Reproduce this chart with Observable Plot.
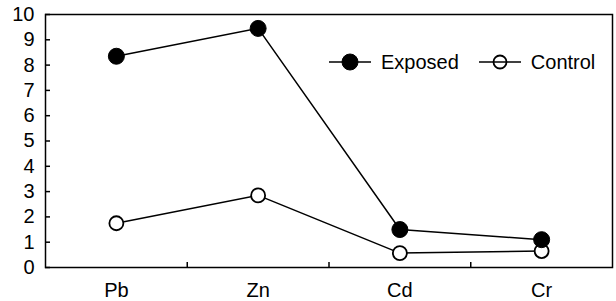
<!DOCTYPE html>
<html>
<head>
<meta charset="utf-8">
<script src="https://cdn.jsdelivr.net/npm/d3@7"></script>
<script src="https://cdn.jsdelivr.net/npm/@observablehq/plot@0.6"></script>
<style>
  html, body { margin: 0; padding: 0; background: #fff; }
  #wrap { position: relative; width: 616px; height: 301px; font-family: "Liberation Sans", Arial, sans-serif; }
  #legend { position: absolute; left: 329px; top: 50px; display: flex; align-items: center; font-size: 20px; color: #000; }
  .item { display: flex; align-items: center; }
  .item svg { display: block; }
  .item span { margin-left: 10px; line-height: 24px; }
</style>
</head>
<body>
<div id="wrap"><div id="legend"></div></div>
<script>
const categories = ["Pb", "Zn", "Cd", "Cr"];
const exposed = [8.35, 9.45, 1.5, 1.1];
const control = [1.75, 2.85, 0.57, 0.65];
const seriesNames = ["Exposed", "Control"];
const yTicks = [0, 1, 2, 3, 4, 5, 6, 7, 8, 9, 10];

const rows = [];
categories.forEach((c, i) => {
  rows.push({series: seriesNames[0], i: i + 1, cat: c, value: exposed[i]});
  rows.push({series: seriesNames[1], i: i + 1, cat: c, value: control[i]});
});
const boundaries = categories.slice(1).map((_, i) => i + 1.5);
const xDomain = [0.5, categories.length + 0.5];
const yDomain = [0, 10];

const W = 616, H = 301, mL = 45, mR = 4, mT = 14, mB = 34, tick = 5;
const innerW = W - mL - mR, innerH = H - mT - mB;
// tick length expressed in data units of each scale
const xTickLen = (xDomain[1] - xDomain[0]) * tick / innerW;
const yTickLen = (yDomain[1] - yDomain[0]) * tick / innerH;

const chart = Plot.plot({
  width: W,
  height: H,
  marginLeft: mL,
  marginRight: mR,
  marginTop: mT,
  marginBottom: mB,
  style: {fontFamily: "'Liberation Sans', Arial, sans-serif", fontSize: "20px", color: "#000", background: "#fff"},
  x: {type: "linear", domain: xDomain},
  y: {domain: yDomain},
  marks: [
    Plot.frame({stroke: "#000", strokeWidth: 1.5}),
    Plot.axisY({ticks: yTicks, tickSize: 0, tickPadding: 11, label: null, tickFormat: d => String(d)}),
    Plot.axisX({ticks: categories.map((_, i) => i + 1), tickSize: 0, tickPadding: 15, label: null, tickFormat: d => categories[d - 1]}),
    // inward y ticks on the left frame edge
    Plot.ruleY(yTicks, {y: d => d, x1: () => xDomain[0], x2: () => xDomain[0] + xTickLen, stroke: "#000", strokeWidth: 1.5}),
    // inward x ticks at category boundaries on the bottom frame edge
    Plot.ruleX(boundaries, {x: d => d, y1: () => yDomain[0], y2: () => yDomain[0] + yTickLen, stroke: "#000", strokeWidth: 1.5}),
    Plot.line(rows, {x: "i", y: "value", z: "series", stroke: "#000", strokeWidth: 1.5}),
    Plot.dot(rows.filter(d => d.series === "Control"), {x: "i", y: "value", r: 7, fill: "#fff", stroke: "#000", strokeWidth: 1.8}),
    Plot.dot(rows.filter(d => d.series === "Exposed"), {x: "i", y: "value", r: 8, fill: "#000", stroke: "#000", strokeWidth: 1})
  ]
});
document.getElementById("wrap").prepend(chart);

const legend = document.getElementById("legend");
seriesNames.forEach((name, k) => {
  const item = document.createElement("div");
  item.className = "item";
  if (k > 0) item.style.marginLeft = "20px";
  const filled = k === 0;
  item.innerHTML = `<svg width="42" height="20"><line x1="0" y1="10" x2="42" y2="10" stroke="#000" stroke-width="1.5"/>` +
    `<circle cx="21" cy="10" r="${filled ? 8 : 6.5}" fill="${filled ? "#000" : "none"}" stroke="#000" stroke-width="${filled ? 1 : 1.8}"/></svg>` +
    `<span>${name}</span>`;
  legend.appendChild(item);
});
</script>
</body>
</html>
